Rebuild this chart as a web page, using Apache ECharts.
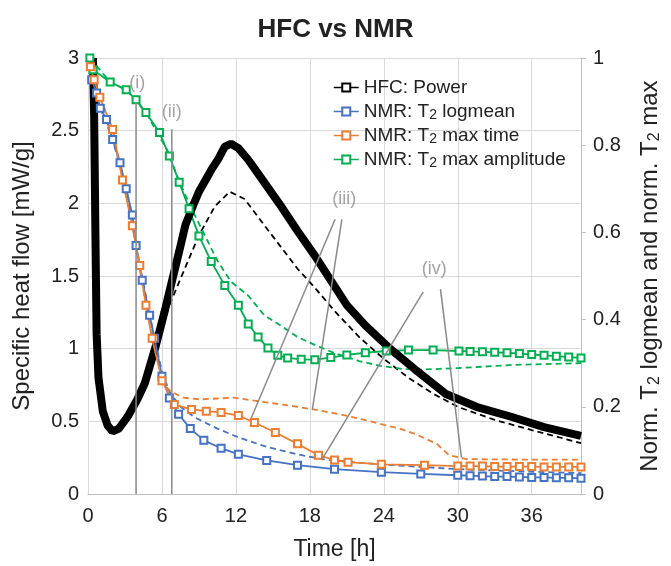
<!DOCTYPE html>
<html>
	<head>
		<meta charset="UTF-8">
		<title>HFC vs NMR</title>
		<script src="https://cdn.jsdelivr.net/npm/echarts@6.0.0/dist/echarts.min.js"></script>
		<style>
			html,body{margin:0;padding:0;background:#fff;}
			#main{width:671px;height:566px;}
		</style>
	</head>
	<body>
		<div id="main"></div>
		<script>
			// [time h, specific heat flow mW/g]
			var hfcPower = [[0.4,3.0],[0.5,2.6],[0.6,1.8],[0.7,1.1],[0.85,0.8],[1.2,0.57],[1.6,0.47],[2.0,0.43],[2.5,0.45],[3.2,0.53],[4.0,0.65],[4.6,0.76],[5.5,1.02],[6.2,1.25],[6.8,1.46],[7.4,1.67],[7.9,1.85],[8.5,1.98],[9.0,2.08],[10.0,2.23],[10.6,2.31],[11.1,2.39],[11.6,2.41],[12.2,2.38],[13,2.3],[14,2.18],[15.5,2.0],[17,1.81],[18.4,1.64],[20,1.43],[21,1.3],[22.5,1.16],[24.5,1.0],[26.5,0.86],[29,0.69],[31.5,0.6],[34.4,0.53],[37,0.46],[40,0.4]];
			var hfcPower2 = [[0.4,3.0],[0.6,1.8],[0.8,0.8],[1.2,0.55],[2,0.42],[3,0.5],[4.2,0.7],[5.5,1.0],[6.6,1.3],[7.4,1.46],[9,1.78],[10.3,1.98],[11.5,2.08],[12.7,2.03],[14.3,1.85],[17,1.55],[18.4,1.42],[20,1.26],[22,1.08],[24,0.93],[26,0.8],[28,0.69],[30,0.6],[33,0.51],[36,0.44],[40,0.35]];
			// [time h, normalised value]
			var logmean = [[0.3,0.95],[0.7,0.92],[1.0,0.885],[1.5,0.859],[2.0,0.813],[2.6,0.76],[3.1,0.7],[3.6,0.64],[3.9,0.57],[4.4,0.49],[5.0,0.41],[5.4,0.357],[6.0,0.27],[6.6,0.22],[7.35,0.183],[8.3,0.15],[9.4,0.123],[10.8,0.105],[12.2,0.091],[14.5,0.077],[17,0.066],[20,0.057],[23.8,0.05],[27,0.046],[30,0.043],[31,0.042],[32,0.041],[33,0.04],[34,0.04],[35,0.039],[36,0.038],[37,0.038],[38,0.037],[39,0.037],[40,0.036]];
			var logmean2 = [[0.3,0.95],[1.0,0.885],[2.0,0.813],[3.1,0.7],[3.9,0.57],[5.0,0.41],[6.0,0.28],[6.6,0.235],[7.5,0.2],[8.7,0.175],[10.5,0.15],[12.2,0.13],[14.5,0.108],[17,0.091],[19,0.08],[21.5,0.073],[23.8,0.068],[27,0.062],[30,0.057],[35,0.052],[40,0.048]];
			var maxTime = [[0.2,0.98],[0.5,0.95],[0.96,0.91],[2.0,0.836],[2.8,0.72],[3.6,0.615],[4.2,0.524],[4.7,0.433],[5.2,0.357],[6.0,0.26],[7.0,0.205],[8.4,0.194],[9.6,0.19],[10.8,0.187],[12.2,0.18],[13.5,0.164],[15.2,0.141],[17,0.115],[18.7,0.089],[20,0.078],[21.1,0.073],[23.8,0.068],[27.3,0.066],[30,0.064],[31,0.064],[32,0.064],[33,0.063],[34,0.063],[35,0.063],[36,0.063],[37,0.062],[38,0.062],[39,0.062],[40,0.062]];
			var maxTime2 = [[0.2,0.98],[0.96,0.91],[2.0,0.836],[3.6,0.615],[4.7,0.433],[5.6,0.31],[6.2,0.25],[6.7,0.236],[7.7,0.221],[9.1,0.217],[10.5,0.219],[11.8,0.221],[13.5,0.214],[16.3,0.203],[18.3,0.194],[20.4,0.183],[22,0.173],[23.8,0.16],[25.3,0.15],[26.6,0.137],[28.3,0.115],[29.3,0.089],[30.7,0.08],[35,0.079],[40,0.079]];
			var maxAmp = [[0.15,1.0],[0.4,0.973],[1.8,0.945],[3.1,0.927],[3.9,0.904],[4.7,0.875],[5.8,0.829],[6.6,0.775],[7.4,0.715],[8.2,0.654],[9.0,0.592],[10.0,0.533],[11.1,0.478],[12.2,0.433],[13.0,0.39],[13.8,0.36],[14.6,0.335],[15.4,0.318],[16.2,0.312],[17.3,0.309],[18.4,0.308],[19.7,0.313],[21,0.319],[22.5,0.324],[24.2,0.328],[26,0.33],[28,0.33],[30.1,0.328],[31,0.327],[32,0.326],[33,0.325],[34,0.324],[35,0.322],[36,0.32],[37,0.318],[38,0.316],[39,0.314],[40,0.312]];
			var maxAmp2 = [[0.15,1.0],[1.8,0.945],[3.1,0.927],[4.7,0.875],[6.6,0.78],[7.1,0.738],[8.3,0.66],[9.5,0.592],[10.5,0.535],[11.6,0.487],[13,0.455],[14.3,0.41],[15.6,0.387],[17,0.36],[18.4,0.342],[20,0.323],[22,0.305],[23.7,0.294],[25.5,0.287],[26.9,0.285],[28.5,0.287],[30.1,0.289],[32,0.292],[34.4,0.296],[37,0.298],[40,0.3]];

			// annotation segments and labels, in [time, heat flow] units
			var markLines = [
				[[3.9,0],[3.9,2.69]],
				[[6.8,0],[6.8,2.51]],
				[[20.05,1.89],[13.23,0.52]],
				[[20.6,1.89],[18.2,0.58]],
				[[27.2,1.39],[19.0,0.24]],
				[[28.6,1.41],[30.3,0.25]]
			];
			var markLabels = [
				{name:'(i)', value:[4.0,2.83]},
				{name:'(ii)', value:[6.8,2.63]},
				{name:'(iii)', value:[20.8,2.03]},
				{name:'(iv)', value:[28.1,1.55]}
			];

			var legendNames = ['HFC: Power','NMR: T2 logmean','NMR: T2 max time','NMR: T2 max amplitude'];
			var xTicks = {min:0, max:40, interval:6};

			var font = 'Liberation Sans, Arial, sans-serif';
			var txt = '#222';
			var gridCol = '#d9d9d9';

			function solid(name, data, color, axis, width, marks){
				return {
					name:name, type:'line', data:data, yAxisIndex:axis,
					symbol:'emptyRect', symbolSize:7, showSymbol:marks,
					lineStyle:{color:color, width:width},
					itemStyle:{color:color, borderWidth:1.2},
					z:3, animation:false
				};
			}
			function dashed(name, data, color, axis){
				return {
					name:name, type:'line', data:data, yAxisIndex:axis,
					showSymbol:false, symbol:'none',
					lineStyle:{color:color, width:1.8, type:[6,4]},
					z:2, animation:false
				};
			}

			var series = [
				dashed('hfc2', hfcPower2, '#000', 0),
				dashed('logmean2', logmean2, '#4472c4', 1),
				dashed('maxtime2', maxTime2, '#ed7d31', 1),
				dashed('maxamp2', maxAmp2, '#00b050', 1),
				solid(legendNames[3], maxAmp, '#00b050', 1, 1.8, true),
				solid(legendNames[0], hfcPower, '#000', 0, 8, false),
				solid(legendNames[1], logmean, '#4472c4', 1, 1.8, true),
				solid(legendNames[2], maxTime, '#ed7d31', 1, 1.8, true)
			];
			markLines.forEach(function(seg, i){
				series.push({
					name:'note'+i, type:'line', data:seg, yAxisIndex:0,
					showSymbol:false, symbol:'none',
					lineStyle:{color:'#8a8a8a', width:1.5},
					z:5, animation:false, silent:true
				});
			});
			series.push({
				name:'notes', type:'scatter', data:markLabels, yAxisIndex:0,
				symbolSize:1, itemStyle:{color:'transparent'},
				label:{show:true, position:'inside', formatter:'{b}', color:'#8c8c8c', fontSize:18, fontFamily:font},
				z:6, animation:false, silent:true
			});

			var option = {
				backgroundColor:'#fff',
				animation:false,
				title:{
					text:'HFC vs NMR', left:'center', top:12,
					textStyle:{fontSize:26, fontWeight:'bold', color:txt, fontFamily:font}
				},
				legend:{
					data:legendNames, orient:'vertical', left:328, top:72,
					itemWidth:25, itemHeight:10, itemGap:3,
					lineStyle:{width:1.5},
					textStyle:{fontSize:19, lineHeight:21, color:txt, fontFamily:font, rich:{s:{fontSize:14, lineHeight:14, verticalAlign:'bottom', fontFamily:font, color:txt}}},
					formatter:function(n){ return n.replace('T2','T{s|2}'); }
				},
				grid:{left:88, right:84, top:58, bottom:69},
				xAxis:{
					type:'value', min:xTicks.min, max:xTicks.max, interval:xTicks.interval,
					name:'Time [h]', nameLocation:'middle', nameGap:44,
					nameTextStyle:{fontSize:23, color:txt, fontFamily:font},
					axisLine:{show:true, lineStyle:{color:'#bfbfbf', width:1}},
					axisTick:{show:false},
					axisLabel:{fontSize:20, color:txt, fontFamily:font, margin:12, showMaxLabel:false},
					splitLine:{show:true, lineStyle:{color:gridCol, width:1}}
				},
				yAxis:[
					{
						type:'value', min:0, max:3, interval:0.5,
						name:'Specific heat flow [mW/g]', nameLocation:'middle', nameGap:54,
						nameTextStyle:{fontSize:24, color:txt, fontFamily:font},
						axisLine:{show:true, lineStyle:{color:'#d9d9d9'}},
						axisTick:{show:false},
						axisLabel:{fontSize:20, color:txt, fontFamily:font, margin:9},
						splitLine:{show:true, lineStyle:{color:gridCol, width:1}}
					},
					{
						type:'value', min:0, max:1, interval:0.2, position:'right',
						name:'Norm. T{s|2} logmean and norm. T{s|2} max', nameLocation:'middle', nameGap:56,
						nameTextStyle:{fontSize:24, lineHeight:26, color:txt, fontFamily:font, rich:{s:{fontSize:16, lineHeight:16, verticalAlign:'bottom', fontFamily:font, color:txt}}},
						axisLine:{show:true, lineStyle:{color:'#bfbfbf'}},
						axisTick:{show:true, inside:false, length:5, lineStyle:{color:'#bfbfbf'}},
						axisLabel:{fontSize:20, color:txt, fontFamily:font, margin:12},
						splitLine:{show:false}
					}
				],
				series:series
			};

			var myChart = echarts.init(document.getElementById('main'), null, {renderer:'canvas'});
			myChart.setOption(option);
		</script>
	</body>
</html>
